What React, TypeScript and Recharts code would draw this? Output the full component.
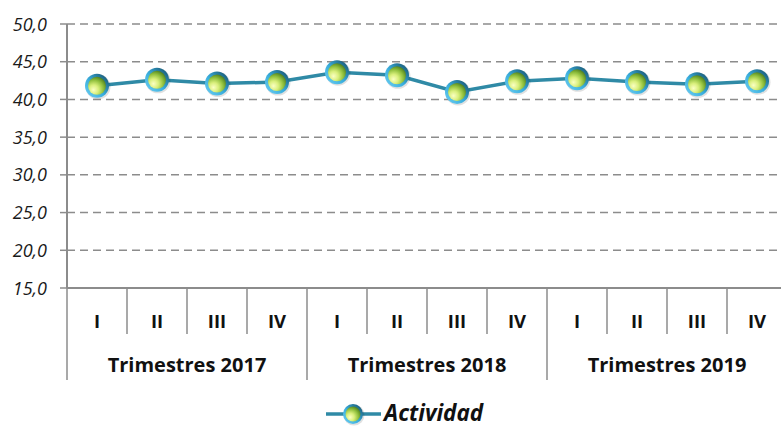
import React from "react";
import { LineChart, Line, XAxis, YAxis, CartesianGrid, Legend } from "recharts";

// Quarterly activity index, three years of quarters
const quarters = ["I", "II", "III", "IV"];
const years = ["2017", "2018", "2019"];
const actividad = [41.8, 42.6, 42.1, 42.3, 43.6, 43.2, 41.0, 42.4, 42.8, 42.3, 42.0, 42.4];
const yTicks = [15, 20, 25, 30, 35, 40, 45, 50];
const seriesName = "Actividad";

const data = actividad.map((v, i) => ({
  pos: i + 0.5,
  label: quarters[i % quarters.length],
  value: v,
}));

// Ticks at every band edge (separators) and every band centre (quarter labels)
const xTicks: number[] = [];
for (let i = 0; i <= actividad.length; i++) {
  xTicks.push(i);
  if (i < actividad.length) xTicks.push(i + 0.5);
}

const FONT = "'Open Sans', sans-serif";
const AXIS_GRAY = "#8c8c8c";
const LINE_COLOR = "#2f8aa6";

const MarkerDefs = () => (
  <defs>
    <radialGradient id="ballGreen" cx="0.35" cy="0.7" r="0.75" fx="0.3" fy="0.72">
      <stop offset="0%" stopColor="#fbffc4" />
      <stop offset="35%" stopColor="#d9ef7c" />
      <stop offset="70%" stopColor="#8fbf3c" />
      <stop offset="100%" stopColor="#4c7d1e" />
    </radialGradient>
    <linearGradient id="ringBlue" x1="0" y1="1" x2="1" y2="0">
      <stop offset="0%" stopColor="#6fd0f5" />
      <stop offset="45%" stopColor="#3aaedd" />
      <stop offset="100%" stopColor="#124a63" />
    </linearGradient>
  </defs>
);

const Ball = ({ cx, cy, r = 12 }: { cx: number; cy: number; r?: number }) => (
  <g>
    <circle cx={cx + 1} cy={cy + 1} r={r + 0.5} fill="rgba(0,0,0,0.12)" />
    <circle cx={cx} cy={cy} r={r} fill="url(#ringBlue)" />
    <circle cx={cx} cy={cy} r={r * 0.75} fill="url(#ballGreen)" />
  </g>
);

const Dot = (props: any) => {
  const { cx, cy, index } = props;
  if (cx == null || cy == null) return null;
  return <Ball key={`dot-${index}`} cx={cx} cy={cy} />;
};

const XTick = (props: any) => {
  const { x, y, payload } = props;
  const v: number = payload.value;
  const top = y - 8; // axis line position
  if (Number.isInteger(v)) {
    const isYearEdge = v % quarters.length === 0;
    const els: React.ReactNode[] = [];
    els.push(
      <line key="sep" x1={x} x2={x} y1={top} y2={top + (isYearEdge ? 92 : 46)} stroke={AXIS_GRAY} strokeWidth={1.5} />
    );
    if (v % quarters.length === 2) {
      const yi = Math.floor(v / quarters.length);
      els.push(
        <text key="yr" x={x} y={top + 84} textAnchor="middle" fontFamily={FONT} fontWeight={700} fontSize={20} fill="#111">
          {`Trimestres ${years[yi]}`}
        </text>
      );
    }
    return <g>{els}</g>;
  }
  const idx = Math.floor(v);
  return (
    <text x={x} y={top + 40} textAnchor="middle" fontFamily={FONT} fontWeight={700} fontSize={18.5} fill="#111">
      {quarters[idx % quarters.length]}
    </text>
  );
};

const YTick = (props: any) => {
  const { x, y, payload } = props;
  return (
    <text x={x - 11} y={y + 6.5} textAnchor="end" fontFamily={FONT} fontStyle="italic" fontSize={18} fill="#1a1a1a">
      {payload.value.toFixed(1).replace(".", ",")}
    </text>
  );
};

const LegendContent = () => (
  <svg width={790} height={40} style={{ display: "block" }}>
    <MarkerDefs />
    <line x1={326} x2={381} y1={26} y2={26} stroke={LINE_COLOR} strokeWidth={3.5} />
    <Ball cx={353} cy={26} r={10} />
    <text x={384} y={33} fontFamily={FONT} fontStyle="italic" fontWeight={700} fontSize={22.5} fill="#111">
      {seriesName}
    </text>
  </svg>
);

export default function App() {
  return (
    <div style={{ position: "absolute", left: 0, top: 0, width: 781, height: 428, overflow: "hidden", background: "#fff" }}>
      <LineChart width={790} height={428} data={data} margin={{ top: 24, right: 3, bottom: 0, left: 0 }}>
        <MarkerDefs />
        <CartesianGrid vertical={false} stroke={AXIS_GRAY} strokeDasharray="8 5" strokeWidth={1.5} />
        <XAxis
          dataKey="pos"
          type="number"
          domain={[0, actividad.length]}
          ticks={xTicks}
          interval={0}
          height={100}
          tick={<XTick />}
          tickLine={false}
          axisLine={{ stroke: AXIS_GRAY, strokeWidth: 2 }}
        />
        <YAxis
          domain={[15, 50]}
          ticks={yTicks}
          width={67}
          tick={<YTick />}
          tickLine={{ stroke: AXIS_GRAY, strokeWidth: 1.5 }}
          tickSize={7}
          axisLine={{ stroke: AXIS_GRAY, strokeWidth: 2 }}
        />
        <Legend verticalAlign="bottom" height={40} wrapperStyle={{ left: 0, width: 790 }} content={<LegendContent />} />
        <Line
          type="linear"
          dataKey="value"
          name={seriesName}
          stroke={LINE_COLOR}
          strokeWidth={3.5}
          dot={<Dot />}
          activeDot={false}
          isAnimationActive={false}
        />
      </LineChart>
    </div>
  );
}
